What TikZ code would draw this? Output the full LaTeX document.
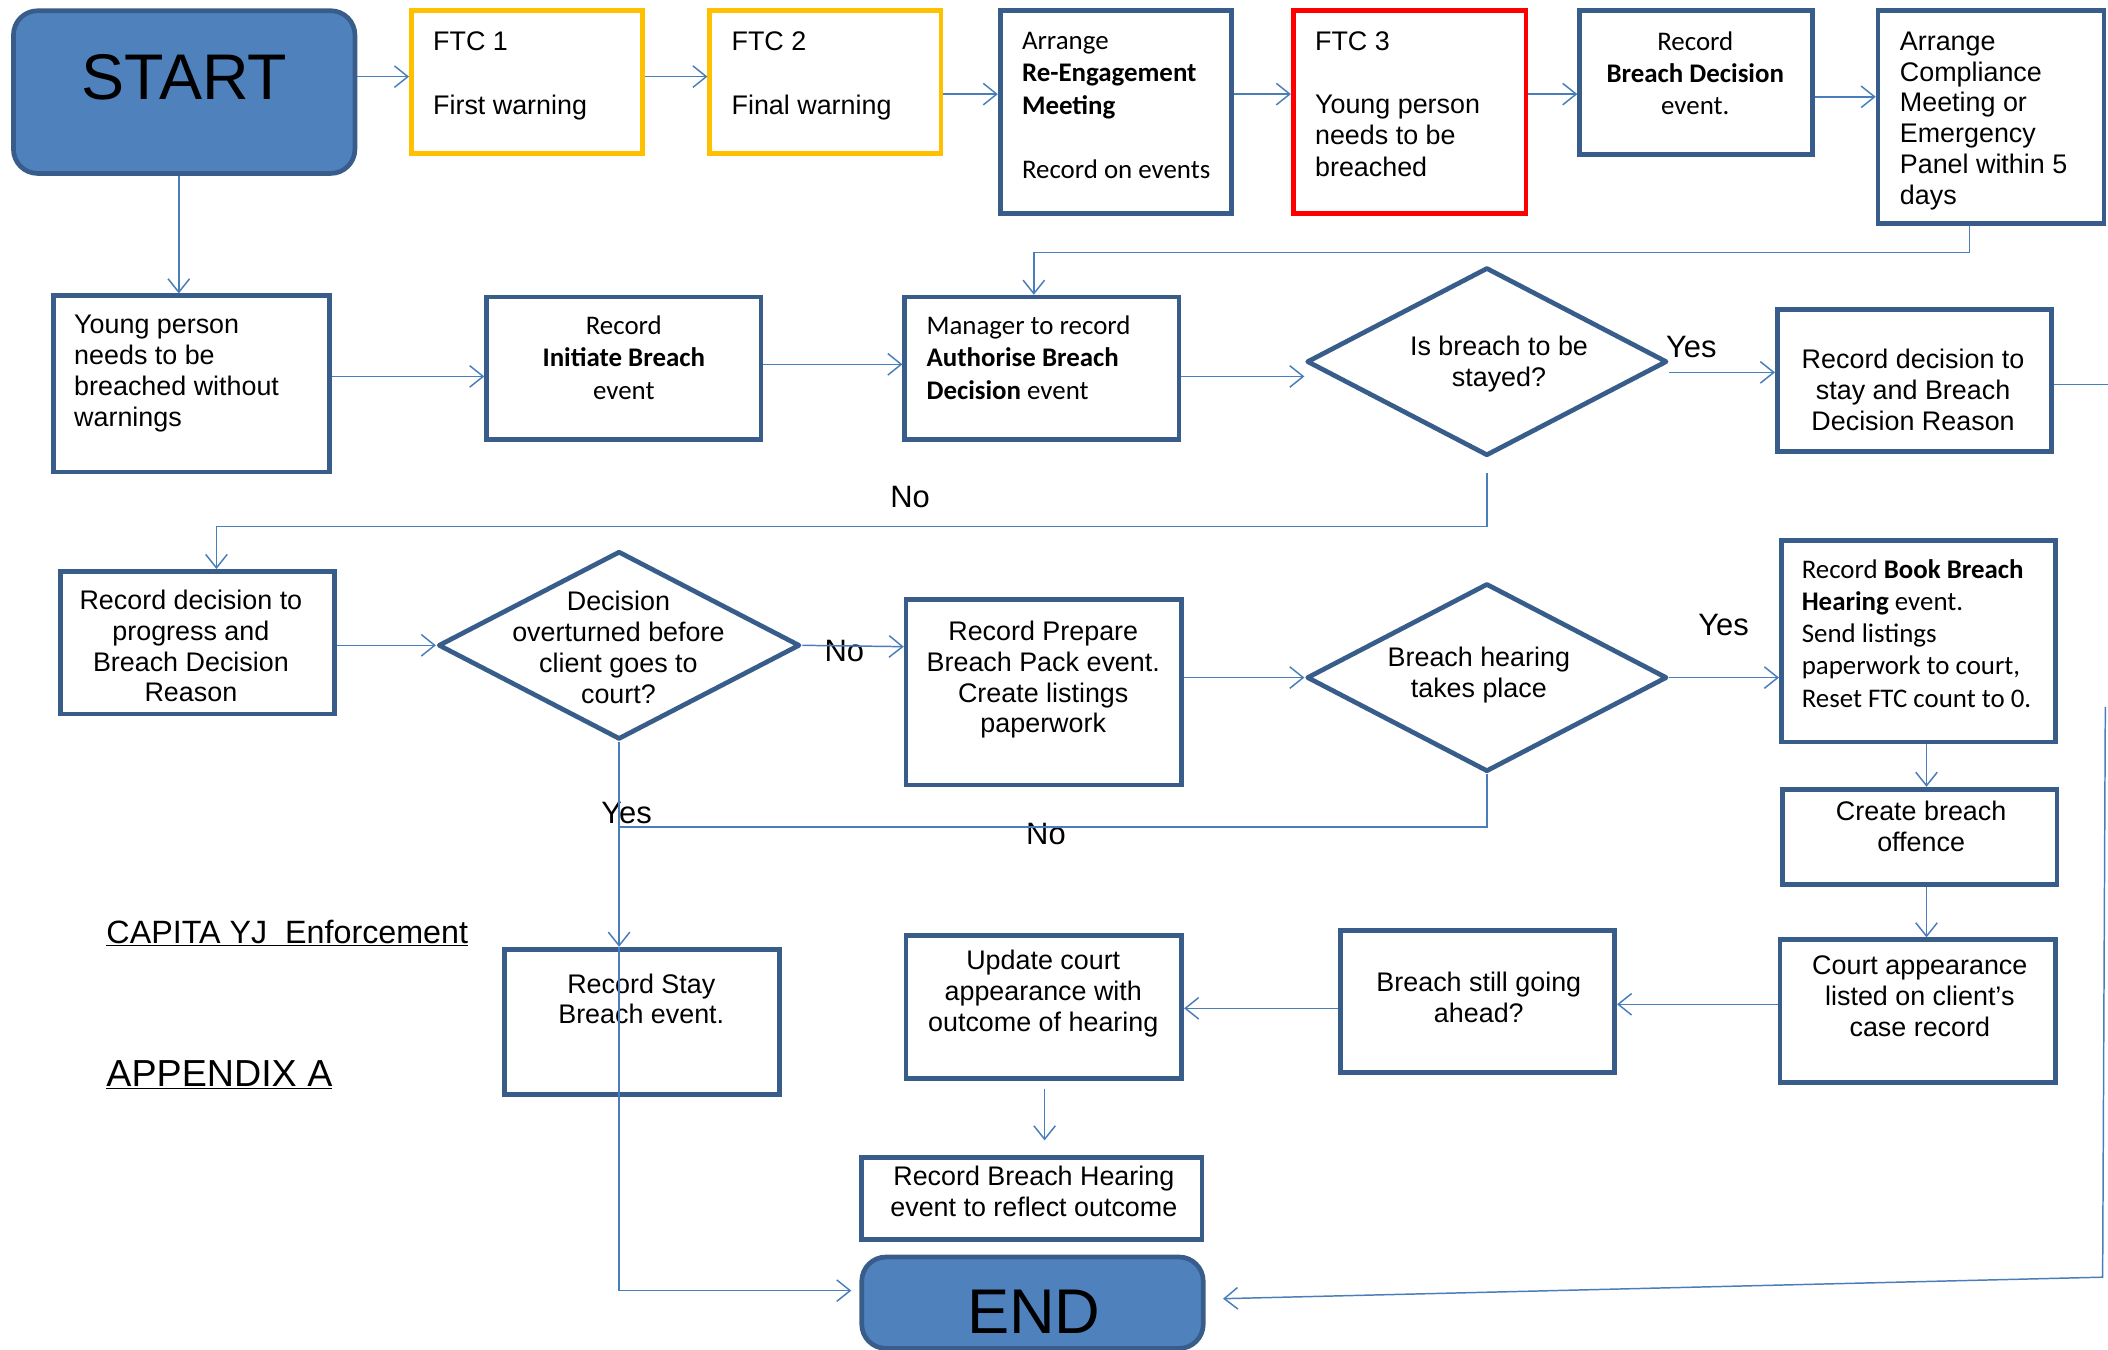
\documentclass[tikz,border=0pt]{standalone}
\usepackage{fontspec}
\setmainfont{Liberation Sans}
\newfontfamily\calibri{Carlito}
\usetikzlibrary{shapes.geometric,arrows.meta}
\definecolor{boxblue}{HTML}{385D8A}
\definecolor{connblue}{HTML}{4A7EBB}
\definecolor{startfill}{HTML}{4F81BD}
\definecolor{ftcorange}{HTML}{FFC000}
\definecolor{ftcred}{HTML}{FF0000}
\begin{document}
\begin{tikzpicture}[x=1pt,y=-1pt,
 box/.style={draw=boxblue, line width=3.5pt, fill=white, inner sep=0pt, rectangle},
 dia/.style={diamond, draw=boxblue, line width=3.5pt, fill=white, inner sep=0pt, line join=round},
 term/.style={draw=boxblue, line width=3.5pt, fill=startfill, inner sep=0pt, rounded corners=18pt, rectangle},
 txt/.style={inner sep=0pt, font=\fontsize{20}{23}\selectfont},
 ctxt/.style={inner sep=0pt, font=\calibri\fontsize{20}{24}\selectfont},
 lbl/.style={inner sep=0pt, font=\fontsize{23}{27}\selectfont},
 conn/.style={draw=connblue, line width=1.1pt},
 arr/.style={conn, -{Straight Barb[length=10pt,width=16pt]}},
]
\useasboundingbox (0,0) rectangle (1568,1004);

% ---------- boxes ----------
\node[term, minimum width=254pt, minimum height=121pt] (start) at (137,68.5) {};
\node[box, draw=ftcorange, minimum width=172pt, minimum height=106pt] (ftc1) at (392,61) {};
\node[box, draw=ftcorange, minimum width=172pt, minimum height=106pt] (ftc2) at (614,61) {};
\node[box, minimum width=172pt, minimum height=151pt] (reeng) at (830,83.5) {};
\node[box, draw=ftcred, minimum width=173pt, minimum height=151pt] (ftc3) at (1048.5,83.5) {};
\node[box, minimum width=173pt, minimum height=107pt] (bd) at (1261.5,61.5) {};
\node[box, minimum width=168pt, minimum height=158pt] (comp) at (1481,87) {};

\node[box, minimum width=205pt, minimum height=131pt] (yp) at (142.5,285.5) {};
\node[box, minimum width=204pt, minimum height=106pt] (init) at (464,274) {};
\node[box, minimum width=204pt, minimum height=106pt] (auth) at (775,274) {};
\node[dia, minimum width=268pt, minimum height=140pt] (d1) at (1106,269) {};
\node[box, minimum width=204pt, minimum height=106pt] (stay) at (1424,283) {};

\node[box, minimum width=204pt, minimum height=106pt] (prog) at (147,478) {};
\node[dia, minimum width=269pt, minimum height=140pt] (d2) at (460.5,480) {};
\node[box, minimum width=205pt, minimum height=138pt] (prep) at (776.5,515) {};
\node[dia, minimum width=268pt, minimum height=140pt] (d3) at (1106,504) {};
\node[box, minimum width=204pt, minimum height=150pt] (book) at (1427,477) {};
\node[box, minimum width=204pt, minimum height=71pt] (create) at (1428,622.5) {};

\node[box, minimum width=205pt, minimum height=106pt] (court) at (1426.5,752) {};
\node[box, minimum width=204pt, minimum height=106pt] (still) at (1099,745) {};
\node[box, minimum width=205pt, minimum height=106pt] (update) at (776.5,749) {};
\node[box, minimum width=205pt, minimum height=108pt] (stayev) at (477.5,760) {};
\node[box, minimum width=253pt, minimum height=61pt] (rbh) at (767.5,891.5) {};
\node[term, minimum width=254pt, minimum height=68pt] (end) at (768,969) {};

% ---------- texts ----------
\node[inner sep=0pt, font=\fontsize{48}{52}\selectfont, anchor=base] (startt) at (137,74) {START};
\node[txt, font=\fontsize{20}{23.5}\selectfont, align=left, anchor=west] (ftc1t) at (322,56.5) {FTC 1\\~\\First warning};
\node[txt, font=\fontsize{20}{23.5}\selectfont, align=left, anchor=west] (ftc2t) at (544,56.5) {FTC 2\\~\\Final warning};
\node[ctxt, align=left, anchor=west] (reengt) at (760,78.5) {Arrange\\\textbf{Re-Engagement}\\\textbf{Meeting}\\~\\Record on events};
\node[txt, font=\fontsize{20}{23.3}\selectfont, align=left, anchor=west] (ftc3t) at (978,77.5) {FTC 3\\~\\Young person\\needs to be\\breached};
\node[ctxt, align=center] (bdt) at (1261,54.5) {Record\\\textbf{Breach Decision}\\event.};
\node[txt, align=left, anchor=west] (compt) at (1413,90) {Arrange\\Compliance\\Meeting or\\Emergency\\Panel within 5\\days};

\node[txt, align=left, anchor=west] (ypt) at (55,278) {Young person\\needs to be\\breached without\\warnings};
\node[ctxt, align=center] (initt) at (464,266) {Record\\\textbf{Initiate Breach}\\event};
\node[ctxt, align=left, anchor=west] (autht) at (689,266) {Manager to record\\\textbf{Authorise Breach}\\\textbf{Decision} event};
\node[txt, align=center] (d1t) at (1115,271) {Is breach to be\\stayed?};
\node[txt, align=center] (stayt) at (1423,290) {Record decision to\\stay and Breach\\Decision Reason};

\node[txt, align=center] (progt) at (142,480.5) {Record decision to\\progress and\\Breach Decision\\Reason};
\node[txt, align=center] (d2t) at (460,481.5) {Decision\\overturned before\\client goes to\\court?};
\node[txt, align=center] (prept) at (776,505.5) {Record Prepare\\Breach Pack event.\\Create listings\\paperwork};
\node[txt, align=center] (d3t) at (1100,502) {Breach hearing\\takes place};
\node[ctxt, align=left, anchor=west] (bookt) at (1340,471) {Record \textbf{Book Breach}\\\textbf{Hearing} event.\\Send listings\\paperwork to court,\\Reset FTC count to 0.};
\node[txt, align=center] (createt) at (1429,614.5) {Create breach\\offence};

\node[txt, align=center] (courtt) at (1428,741) {Court appearance\\listed on client’s\\case record};
\node[txt, align=center] (stillt) at (1100,742) {Breach still going\\ahead?};
\node[txt, align=center] (updatet) at (776,739) {Update court\\appearance with\\outcome of hearing};
\node[txt, align=center] (stayevt) at (477,743) {Record Stay\\Breach event.};
\node[txt, align=center] (rbht) at (769,886.5) {Record Breach Hearing\\event to reflect outcome};
\node[inner sep=0pt, font=\fontsize{47}{50}\selectfont, anchor=base] (endt) at (769,992) {END};

\node[lbl] (yes1) at (1258,258) {Yes};
\node[lbl] (no1) at (677,370) {No};
\node[lbl] (no2) at (628,484) {No};
\node[lbl] (yes2) at (1282,465) {Yes};
\node[lbl] (yes3) at (466,605) {Yes};
\node[lbl] (no3) at (778,620) {No};

\node[inner sep=0pt, font=\fontsize{24}{28}\selectfont, anchor=base west] (capita) at (79,701.5) {\underline{CAPITA YJ\ \ Enforcement}};
\node[inner sep=0pt, font=\fontsize{28}{32}\selectfont, anchor=base west] (appx) at (79,808) {\underline{APPENDIX A}};

% ---------- connectors ----------
\draw[arr] (start.east |- 0,57) -- (ftc1.west |- 0,57);
\draw[arr] (ftc1.east |- 0,57) -- (ftc2.west |- 0,57);
\draw[arr] (ftc2.east |- 0,70) -- (reeng.west |- 0,70);
\draw[arr] (reeng.east |- 0,70) -- (ftc3.west |- 0,70);
\draw[arr] (ftc3.east |- 0,70) -- (bd.west |- 0,70);
\draw[arr] (bd.east |- 0,72) -- (comp.west |- 0,72);
\draw[arr] (start.south -| 133,0) -- (yp.north -| 133,0);
\draw[arr] (yp.east |- 0,280) -- (init.west |- 0,280);
\draw[arr] (init.east |- 0,271) -- (auth.west |- 0,271);
\draw[arr] (comp.south -| 1465,0) -- ++(0,20) -| (auth.north -| 769,0);
\draw[arr] (auth.east |- 0,280) -- (d1.west |- 0,280);
\draw[arr] (d1.east |- 0,277) -- (stay.west |- 0,277);
\coordinate (edgeA) at (1568,286);
\draw[conn] (stay.east |- edgeA) -- (edgeA);
\draw[arr] ([yshift=-11pt]d1.south) -- ++(0,40) -| (prog.north -| 161,0);

\draw[arr] (prog.east |- 0,480) -- (d2.west);
\draw[arr] (d2.east) -- (prep.west |- 0,481);
\draw[arr] (prep.east |- 0,504) -- (d3.west);
\draw[arr] (d3.east) -- (book.west |- 0,504);
\draw[conn] (d3.south) |- (d2.south |- 0,615);
\draw[arr] (d2.south) -- (stayev.north -| d2.south);
\draw[arr] (stayev.north -| d2.south) -- (d2.south |- 0,960) -- ([xshift=-6pt]end.west |- 0,960);

\draw[arr] (book.south -| 1433,0) -- (create.north -| 1433,0);
\draw[arr] (create.south -| 1433,0) -- (court.north -| 1433,0);
\draw[arr] (court.west |- 0,747) -- (still.east |- 0,747);
\draw[arr] (still.west |- 0,750) -- (update.east |- 0,750);
\draw[arr, shorten <=6pt, shorten >=11pt] (update.south -| 777,0) -- (rbh.north -| 777,0);
\coordinate (edgeB) at (1566,526);
\coordinate (edgeC) at (1564,950);
\draw[arr] (edgeB) -- (edgeC) -- ([xshift=13pt]end.east |- 0,966);
\end{tikzpicture}
\end{document}
